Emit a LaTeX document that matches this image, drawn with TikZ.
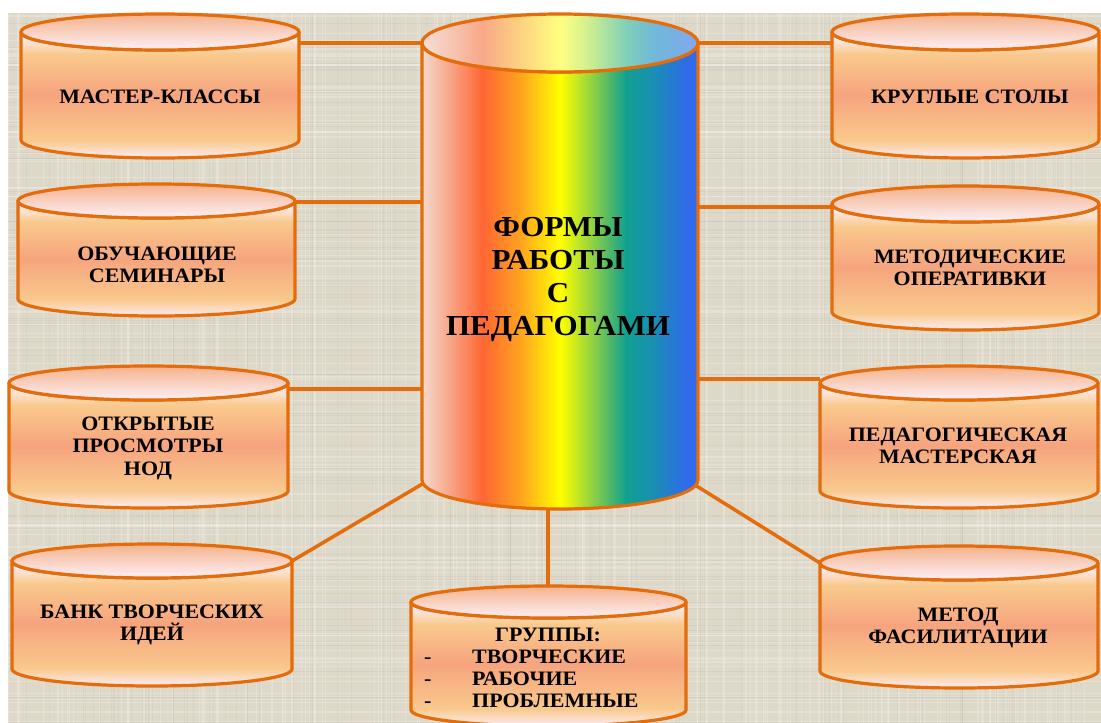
\documentclass[tikz,border=0pt]{standalone}
\usepackage{fontspec}
\setmainfont[FakeStretch=1.07]{Liberation Serif}
\definecolor{orng}{HTML}{E46C0A}
\definecolor{bgc}{HTML}{DED8C9}
\definecolor{pw}{HTML}{FDECF3}
\definecolor{lo}{HTML}{F9C98C}
\definecolor{sal}{HTML}{F6A47E}
\definecolor{r0}{HTML}{F3DACE}
\definecolor{r1}{HTML}{FF6633}
\definecolor{r2}{HTML}{FFA020}
\definecolor{r3}{HTML}{FFFF00}
\definecolor{r4}{HTML}{A0D838}
\definecolor{r5}{HTML}{10A090}
\definecolor{r6}{HTML}{1890B0}
\definecolor{r7}{HTML}{2F6BEA}
\definecolor{t0}{HTML}{F5E0D8}
\definecolor{t1}{HTML}{F8A888}
\definecolor{t2}{HTML}{FDD080}
\definecolor{t3}{HTML}{FFFF80}
\definecolor{t4}{HTML}{D0F090}
\definecolor{t5}{HTML}{80D0B8}
\definecolor{t6}{HTML}{70B8D8}
\definecolor{t7}{HTML}{80A8F0}
\pgfdeclareverticalshading{cylbody}{100bp}{color(0bp)=(pw); color(25bp)=(pw); color(32bp)=(lo); color(50bp)=(sal); color(66bp)=(lo); color(73bp)=(pw); color(100bp)=(pw)}
\pgfdeclarehorizontalshading{rainbow}{100bp}{color(0bp)=(r0); color(25bp)=(r0); color(36bp)=(r1); color(42.5bp)=(r2); color(50bp)=(r3); color(55bp)=(r4); color(62bp)=(r5); color(66.5bp)=(r6); color(73bp)=(r7); color(100bp)=(r7)}
\pgfdeclarehorizontalshading{rainbowtop}{100bp}{color(0bp)=(t0); color(25bp)=(t0); color(36bp)=(t1); color(42.5bp)=(t2); color(50bp)=(t3); color(55bp)=(t4); color(62bp)=(t5); color(67bp)=(t6); color(75bp)=(t7); color(100bp)=(t7)}
\tikzset{
  edgeline/.style={draw=orng, line width=3.5pt, line cap=butt},
  smallbody/.style={shade, shading=cylbody, draw=orng, line width=3.2pt, line join=round},
  smalltop/.style={shade, top color={rgb,255:red,244;green,178;blue,140}, bottom color={rgb,255:red,253;green,240;blue,246}, draw=orng, line width=3.2pt},
  bigbody/.style={shade, shading=rainbow, draw=orng, line width=3.2pt, line join=round},
  bigtop/.style={shade, shading=rainbowtop, draw=orng, line width=3.2pt},
  lbl/.style={font=\fontsize{20.5pt}{22.5pt}\selectfont\bfseries, align=center, inner sep=0pt, text=black},
  biglbl/.style={font=\fontsize{29pt}{33pt}\selectfont\bfseries, align=center, inner sep=0pt, text=black}
}
% #1 L, #2 R, #3 top y, #4 bottom y, #5 ry, #6 body style, #7 top style
\newcommand\mycyl[7]{%
  \pgfmathsetmacro\rxx{(#2-#1)/2}%
  \pgfmathsetmacro\cxx{(#1+#2)/2}%
  \path[#6] (#1,#3) -- (#1,#4) arc[start angle=180,end angle=0,x radius=\rxx,y radius=#5] -- (#2,#3) arc[start angle=0,end angle=180,x radius=\rxx,y radius=#5] -- cycle;
  \path[#7] (\cxx,#3) ellipse[x radius=\rxx, y radius=#5];
}
\begin{document}
\begin{tikzpicture}[x=1pt,y=-1pt]
\useasboundingbox (0,0) rectangle (1101,723);
\begin{scope}
\clip (0,0) rectangle (1101,723);
% background
\fill[bgc] (8,13) rectangle (1101,723);
\pgfmathsetseed{7}
\foreach \i in {1,...,120}{
  \pgfmathsetmacro\yy{13+rnd*710}
  \draw[white, opacity=0.22, line width=1.2pt] (8,\yy) -- (1101,\yy);
}
\foreach \i in {1,...,90}{
  \pgfmathsetmacro\yy{13+rnd*710}
  \draw[black!45, opacity=0.09, line width=1pt] (8,\yy) -- (1101,\yy);
}
\foreach \i in {1,...,160}{
  \pgfmathsetmacro\xx{8+rnd*1093}
  \draw[white, opacity=0.18, line width=1.2pt] (\xx,13) -- (\xx,723);
}
\foreach \i in {1,...,110}{
  \pgfmathsetmacro\xx{8+rnd*1093}
  \draw[black!45, opacity=0.07, line width=1pt] (\xx,13) -- (\xx,723);
}
% connector end points
\coordinate (mkE) at (299,43);   \coordinate (cW1) at (424,43);
\coordinate (obE) at (295,202);  \coordinate (cW2) at (424,202);
\coordinate (otE) at (288,389);  \coordinate (cW3) at (424,389);
\coordinate (bkE) at (292,561);  \coordinate (cSW) at (424,483);
\coordinate (grN) at (548,587);  \coordinate (cS)  at (548,505);
\coordinate (krW) at (832,43);   \coordinate (cE1) at (696,43);
\coordinate (meW) at (832,207);  \coordinate (cE2) at (696,207);
\coordinate (peW) at (820,379);  \coordinate (cE3) at (696,379);
\coordinate (mfW) at (820,563);  \coordinate (cSE) at (695,485);
\draw[edgeline] (mkE) -- (cW1);
\draw[edgeline] (obE) -- (cW2);
\draw[edgeline] (otE) -- (cW3);
\draw[edgeline] (bkE) -- (cSW);
\draw[edgeline] (grN) -- (cS);
\draw[edgeline] (krW) -- (cE1);
\draw[edgeline] (meW) -- (cE2);
\draw[edgeline] (peW) -- (cE3);
\draw[edgeline] (mfW) -- (cSE);
% cylinders
\mycyl{21}{299}{32}{140}{18}{smallbody}{smalltop}
\mycyl{18}{295}{201}{299}{17}{smallbody}{smalltop}
\mycyl{9}{288}{383}{491}{17}{smallbody}{smalltop}
\mycyl{12}{292}{561}{669}{17}{smallbody}{smalltop}
\mycyl{832}{1099}{32}{140}{18}{smallbody}{smalltop}
\mycyl{832}{1099}{204}{312}{18}{smallbody}{smalltop}
\mycyl{820}{1098}{383}{491}{17}{smallbody}{smalltop}
\mycyl{820}{1098}{563}{671}{17}{smallbody}{smalltop}
\mycyl{411}{686}{602}{710}{16}{smallbody}{smalltop}
\mycyl{422}{698}{43}{480}{29}{bigbody}{bigtop}
\end{scope}
% labels
\node[biglbl] (center) at (558,279) {ФОРМЫ\\РАБОТЫ\\С\\ПЕДАГОГАМИ};
\node[lbl] (mk) at (160,97) {МАСТЕР-КЛАССЫ};
\node[lbl] (ob) at (157,265) {ОБУЧАЮЩИЕ\\СЕМИНАРЫ};
\node[lbl] (ot) at (148,448) {ОТКРЫТЫЕ\\ПРОСМОТРЫ\\НОД};
\node[lbl] (bk) at (152,625) {БАНК ТВОРЧЕСКИХ\\ИДЕЙ};
\node[lbl] (kr) at (970,97) {КРУГЛЫЕ СТОЛЫ};
\node[lbl] (me) at (970,268) {МЕТОДИЧЕСКИЕ\\ОПЕРАТИВКИ};
\node[lbl] (pe) at (958,446) {ПЕДАГОГИЧЕСКАЯ\\МАСТЕРСКАЯ};
\node[lbl] (mf) at (958,628) {МЕТОД\\ФАСИЛИТАЦИИ};
\node[lbl, anchor=base] (g0) at (548,641) {ГРУППЫ:};
\node[lbl, anchor=base west] (g1) at (424,663) {\makebox[48pt][l]{-}ТВОРЧЕСКИЕ};
\node[lbl, anchor=base west] (g2) at (424,685) {\makebox[48pt][l]{-}РАБОЧИЕ};
\node[lbl, anchor=base west] (g3) at (424,707) {\makebox[48pt][l]{-}ПРОБЛЕМНЫЕ};
\end{tikzpicture}
\end{document}
